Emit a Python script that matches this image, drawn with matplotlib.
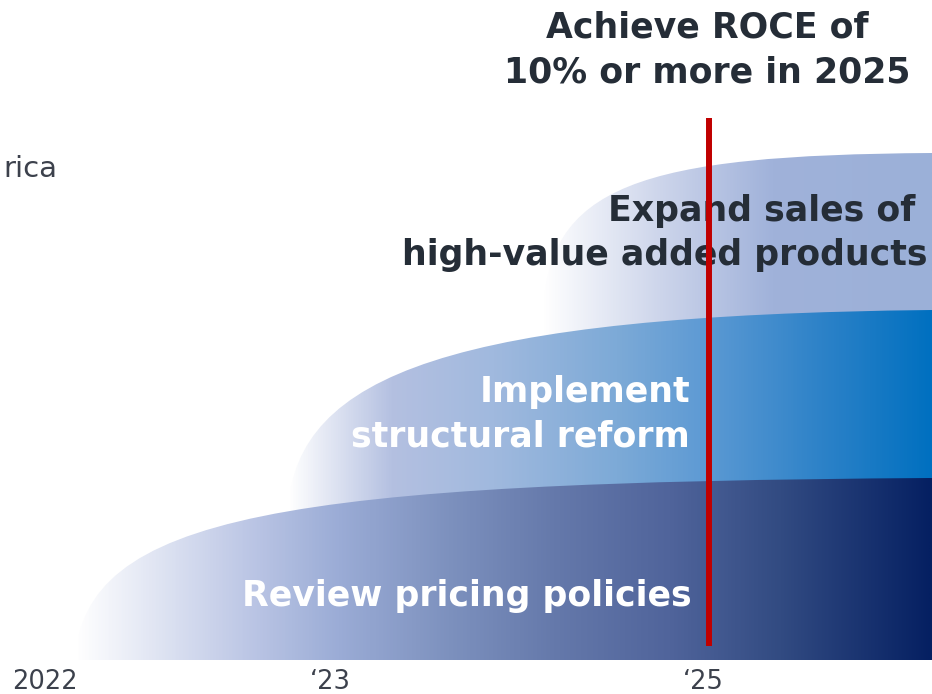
import numpy as np
import matplotlib
matplotlib.use("Agg")
import matplotlib.pyplot as plt
from matplotlib.path import Path
from matplotlib.patches import PathPatch
from matplotlib.colors import LinearSegmentedColormap

# Timeline labels
years = ["2022", "\u201823", "\u201825"]
year_x = [45, 330, 703]

# Initiatives, bottom to top
layer_labels = ["Review pricing policies",
                "Implement\nstructural reform",
                "Expand sales of\nhigh-value added products"]

goal_text = "Achieve ROCE of\n10% or more in 2025"
goal_x = 709

# Gradient stops (fraction along layer, rgb)
grad_bottom = [(0.0, (255, 255, 255)), (0.196, (190, 200, 230)), (0.306, (155, 172, 214)),
               (0.436, (125, 145, 190)), (0.565, (100, 120, 170)), (0.695, (80, 100, 155)),
               (0.824, (50, 75, 130)), (1.0, (5, 32, 98))]
grad_middle = [(0.0, (255, 255, 255)), (0.16, (180, 192, 225)), (0.32, (160, 185, 222)),
               (0.51, (125, 170, 215)), (0.64, (95, 155, 212)), (0.83, (45, 130, 200)),
               (1.0, (0, 112, 192))]
grad_top = [(0.0, (255, 255, 255)), (0.3, (205, 213, 235)), (0.59, (160, 178, 218)),
            (1.0, (155, 176, 216))]

W, H = 932, 694
fig = plt.figure(figsize=(W / 100, H / 100), dpi=100)
ax = fig.add_axes([0, 0, 1, 1])
ax.set_xlim(0, W)
ax.set_ylim(H, 0)
ax.axis("off")


def make_cmap(stops):
    return LinearSegmentedColormap.from_list(
        "g", [(f, tuple(c / 255 for c in rgb)) for f, rgb in stops])


def layer(x0, y0, c1, c2, top, bottom, stops, z):
    verts = [(x0, y0), c1, c2, (W, top), (W, bottom), (x0, bottom), (x0, y0)]
    codes = [Path.MOVETO, Path.CURVE4, Path.CURVE4, Path.CURVE4,
             Path.LINETO, Path.LINETO, Path.CLOSEPOLY]
    patch = PathPatch(Path(verts, codes), facecolor="none", edgecolor="none", zorder=z)
    ax.add_patch(patch)
    grad = np.linspace(0, 1, 512).reshape(1, -1)
    im = ax.imshow(grad, cmap=make_cmap(stops), extent=(x0, W, bottom, top - 2),
                   aspect="auto", zorder=z, interpolation="bilinear")
    im.set_clip_path(patch)


layer(543, 318, (545, 185), (640, 155), 153, 660, grad_top, 1)
layer(288, 508, (298, 375), (450, 315), 310, 660, grad_middle, 2)
layer(75, 660, (84, 515), (280, 482), 478, 660, grad_bottom, 3)

ax.set_xlim(0, W)
ax.set_ylim(H, 0)

dark = "#252d37"
fs_big = 25

ax.text(goal_x - 2, 50, goal_text, ha="center", va="center", fontsize=fs_big,
        fontweight="bold", color=dark, linespacing=1.4, zorder=5)

top_lines = layer_labels[2].split("\n")
ax.text(915, 211, top_lines[0], ha="right", va="center", fontsize=fs_big,
        fontweight="bold", color=dark, zorder=5)
ax.text(928, 255, top_lines[1], ha="right", va="center", fontsize=fs_big,
        fontweight="bold", color=dark, zorder=5)

ax.text(690, 414, layer_labels[1], ha="right", va="center", fontsize=fs_big,
        fontweight="bold", color="white", linespacing=1.4, zorder=5)
ax.text(692, 596, layer_labels[0], ha="right", va="center", fontsize=fs_big,
        fontweight="bold", color="white", zorder=5)

# Target year marker
ax.plot([goal_x, goal_x], [118, 646], color="#c00000", lw=4.3,
        solid_capstyle="butt", zorder=6)

for lab, x in zip(years, year_x):
    ax.text(x, 682, lab, ha="center", va="center", fontsize=18.5, color="#3c414c")

ax.text(57, 169, "rica", ha="right", va="center", fontsize=21, color="#3c414c")

fig.savefig("out.png", dpi=100)
